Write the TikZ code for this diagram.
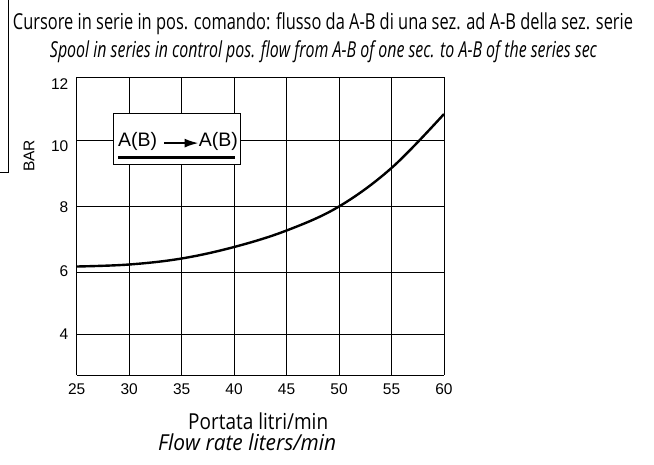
\documentclass[tikz,border=0pt]{standalone}
\usepackage{fontspec}
\usepackage{graphicx}
\setmainfont{Liberation Sans}
\newfontfamily\condf{Open Sans}
\usetikzlibrary{arrows.meta}
\begin{document}
\begin{tikzpicture}[x=1pt,y=-1pt,
  gridline/.style={line width=0.9pt,black},
  curveline/.style={line width=2.4pt,black},
  ticklbl/.style={font=\fontsize{15.5}{15.5}\selectfont,inner sep=0pt},
  legtxt/.style={inner sep=0pt,font=\fontsize{19.5}{19.5}\selectfont},
  captxt/.style={inner sep=0pt,anchor=base}]
\useasboundingbox (0,0) rectangle (654,464);
% left border fragment
\draw[line width=1pt] (8,0) -- (8,172.5) -- (0,172.5);
% titles
\node[captxt] (t1) at (323,29.5) {\resizebox{620pt}{\height}{\condf\fontsize{22}{22}\selectfont Cursore in serie in pos. comando: flusso da A-B di una sez. ad A-B della sez. serie}};
\node[captxt] (t2) at (323.5,57.5) {\resizebox{547pt}{\height}{\condf\itshape\fontsize{22}{22}\selectfont Spool in series in control pos. flow from A-B of one sec. to A-B of the series sec}};
% grid
\foreach \k in {0,...,7}{
  \draw[gridline] ({76.7+\k*52.47},77.3) -- ({76.7+\k*52.47},375.3);
}
\foreach \yy in {77.3,140,206,272,334.3,375.3}{
  \draw[gridline] (76.7,\yy) -- (444,\yy);
}
% curve
\draw[curveline] plot[smooth,tension=0.6] coordinates {(76.7,266.5) (129.2,264.5) (181.6,258.5) (234.1,247) (286.6,230.5) (339,206.5) (391.5,168) (444,114)};
% legend
\node[draw,fill=white,line width=1pt,minimum width=127pt,minimum height=51pt,anchor=north west,inner sep=0pt] (legend) at (113,113) {};
\node[legtxt,anchor=base west] (a1) at (118,146.7) {A(B)};
\node[legtxt,anchor=base east] (a2) at (238,146.7) {A(B)};
\draw[line width=2pt,-{Latex[length=14pt,width=9pt]}] ([xshift=7pt,yshift=3.6pt]a1.base east) -- ([yshift=3.6pt]a2.base west);
\draw[line width=3.3pt] (118,157.7) -- (235,157.7);
% y ticks
\node[ticklbl,anchor=east] (y12) at (68.5,84) {12};
\node[ticklbl,anchor=east] (y10) at (68.5,146) {10};
\node[ticklbl,anchor=east] (y8) at (68.5,207) {8};
\node[ticklbl,anchor=east] (y6) at (68.5,271.5) {6};
\node[ticklbl,anchor=east] (y4) at (68.5,334) {4};
\node[ticklbl,rotate=90] (bar) at (29,156) {BAR};
% x ticks
\foreach \v [count=\k from 0] in {25,30,35,40,45,50,55,60}{
  \node[ticklbl,anchor=base] (x\v) at ({76.7+\k*52.47},394) {\v};
}
% x axis labels
\node[inner sep=0pt,anchor=base west] (xl1) at (188,429) {\resizebox{140pt}{\height}{\condf\fontsize{22}{22}\selectfont Portata litri/min}};
\node[inner sep=0pt,anchor=base west] (xl2) at (158,450) {\resizebox{178pt}{\height}{\condf\itshape\fontsize{22}{22}\selectfont Flow rate liters/min}};
\end{tikzpicture}
\end{document}
